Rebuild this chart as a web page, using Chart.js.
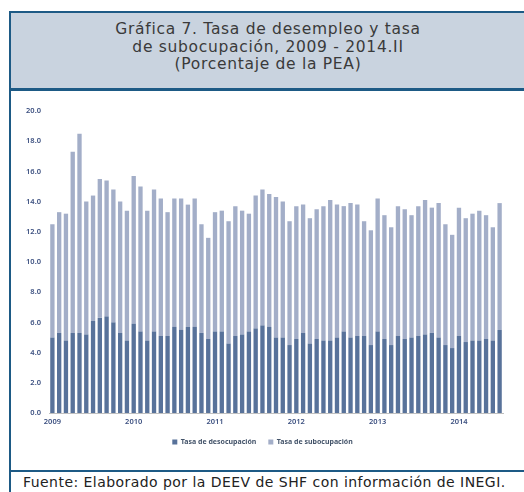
<!DOCTYPE html>
<html>
<head>
<meta charset="utf-8">
<script src="https://cdn.jsdelivr.net/npm/chart.js@4.4.0/dist/chart.umd.min.js"></script>
<style>
  body { margin: 0; background: #fff; width: 524px; height: 492px; overflow: hidden; position: relative; }
  #frame { position: absolute; left: 9px; top: 11px; width: 540px; height: 490px;
    border-left: 2.5px solid #1d5a85; }
  #header { position: absolute; left: 0; top: 0; width: 540px; height: 75px;
    background: #c9d3df; border-top: 2px solid #1d5a85; border-bottom: 3px solid #1d5a85; }
  #titulo { position: absolute; left: 0; width: 514px; top: 8px; text-align: center;
    font-family: "DejaVu Sans", sans-serif; font-size: 15.5px; letter-spacing: 0.7px;
    line-height: 17.5px; color: #3a3a3a; }
  #chartbox { position: absolute; left: 0; top: 80px; width: 540px; height: 379px;
    border-bottom: 2px solid #1d5a85; }
  #fuente { position: absolute; left: 12px; top: 463px; font-family: "DejaVu Sans", sans-serif;
    font-size: 14px; letter-spacing: 0.45px; color: #222; white-space: nowrap; }
  canvas { position: absolute; left: 11px; top: 89px; }
</style>
</head>
<body>
<div id="frame">
  <div id="header">
    <div id="titulo">Gráfica 7. Tasa de desempleo y tasa<br>de subocupación, 2009 - 2014.II<br>(Porcentaje de la PEA)</div>
  </div>
  <div id="chartbox"></div>
  <div id="fuente">Fuente: Elaborado por la DEEV de SHF con información de INEGI.</div>
</div>
<canvas id="grafica" width="513" height="381"></canvas>
<script>
// datos, mensual ene 2009 - jul 2014
var anios = [2009, 2010, 2011, 2012, 2013, 2014];
var meses = ['ene', 'feb', 'mar', 'abr', 'may', 'jun', 'jul', 'ago', 'sep', 'oct', 'nov', 'dic'];

var desocupacion = [
  5.0, 5.3, 4.8, 5.3, 5.3, 5.2, 6.1, 6.3, 6.4, 6.0, 5.3, 4.8,
  5.9, 5.4, 4.8, 5.4, 5.1, 5.1, 5.7, 5.5, 5.7, 5.7, 5.3, 4.9,
  5.4, 5.4, 4.6, 5.1, 5.2, 5.4, 5.6, 5.8, 5.7, 5.0, 5.0, 4.5,
  4.9, 5.3, 4.6, 4.9, 4.8, 4.8, 5.0, 5.4, 5.0, 5.1, 5.1, 4.5,
  5.4, 4.9, 4.5, 5.1, 4.9, 5.0, 5.1, 5.2, 5.3, 5.0, 4.5, 4.3,
  5.1, 4.7, 4.8, 4.8, 4.9, 4.8, 5.5
];

var subocupacion = [
  7.5, 8.0, 8.4, 12.0, 13.2, 8.8, 8.3, 9.2, 9.0, 8.8, 8.7, 8.6,
  9.8, 9.6, 8.6, 9.4, 9.1, 8.2, 8.5, 8.7, 8.1, 8.5, 7.2, 6.7,
  7.9, 8.0, 8.1, 8.6, 8.2, 7.8, 8.8, 9.0, 8.8, 9.3, 9.0, 8.2,
  8.8, 8.5, 8.3, 8.6, 8.9, 9.3, 8.8, 8.3, 8.9, 8.7, 7.6, 7.6,
  8.8, 8.2, 7.8, 8.6, 8.6, 8.1, 8.6, 8.9, 8.3, 8.9, 8.0, 7.5,
  8.5, 8.2, 8.4, 8.6, 8.2, 7.5, 8.4
];

var yTicks = [0, 2, 4, 6, 8, 10, 12, 14, 16, 18, 20];

var periodos = [];
anios.forEach(function(a) {
  meses.forEach(function(m) {
    if (periodos.length < desocupacion.length) {
      periodos.push(m + ' ' + a);
    }
  });
});

var tickFont = { family: 'Noto Sans', size: 7.5, weight: '600' };
var legendFont = { family: "'Liberation Sans Narrow', 'Noto Sans'", size: 7, weight: 'bold' };
var tickColor = '#3c5080';

new Chart(document.getElementById('grafica'), {
  type: 'bar',
  data: {
    labels: periodos,
    datasets: [
      {
        label: 'Tasa de desocupación',
        data: desocupacion,
        backgroundColor: '#58729a',
        barPercentage: 0.64,
        categoryPercentage: 1
      },
      {
        label: 'Tasa de subocupación',
        data: subocupacion,
        backgroundColor: '#a3aec8',
        barPercentage: 0.64,
        categoryPercentage: 1
      }
    ]
  },
  options: {
    responsive: false,
    animation: false,
    devicePixelRatio: 1,
    layout: { padding: { left: 11, right: 21, top: 22, bottom: 14.5 } },
    plugins: {
      title: { display: false },
      tooltip: { enabled: false },
      legend: {
        position: 'bottom',
        labels: {
          boxWidth: 5,
          boxHeight: 5,
          padding: 12,
          font: legendFont,
          color: '#44546a'
        }
      }
    },
    scales: {
      x: {
        stacked: true,
        grid: { display: false, drawTicks: false },
        border: { display: true, color: '#c0c0c0', width: 1 },
        afterFit: function(scale) { scale.height = 13.5; },
        ticks: {
          autoSkip: false,
          maxRotation: 0,
          minRotation: 0,
          padding: 4,
          font: tickFont,
          color: tickColor,
          callback: function(val, i) {
            var p = periodos[i];
            return p.indexOf('ene') === 0 ? p.split(' ')[1] : '';
          }
        }
      },
      y: {
        stacked: true,
        min: 0,
        max: 20,
        grid: { display: false, drawTicks: false },
        border: { display: false },
        afterFit: function(scale) { scale.width = 27; },
        afterBuildTicks: function(scale) {
          scale.ticks = yTicks.map(function(v) { return { value: v }; });
        },
        ticks: {
          padding: 8,
          font: tickFont,
          color: tickColor,
          callback: function(v) { return v.toFixed(1); }
        }
      }
    }
  }
});
</script>
</body>
</html>
